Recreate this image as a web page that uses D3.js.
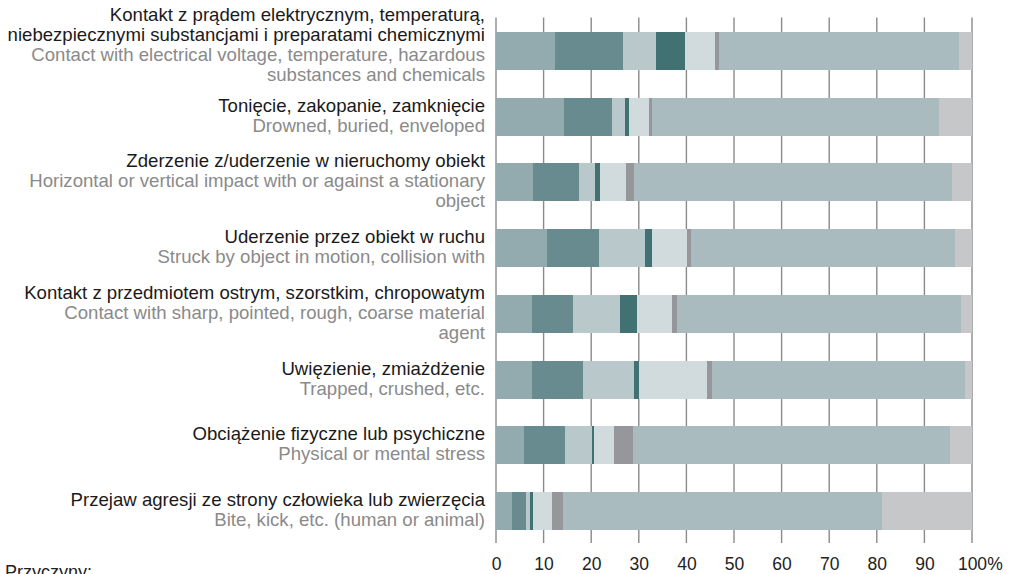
<!DOCTYPE html>
<html>
<head>
<meta charset="utf-8">
<script src="https://cdn.jsdelivr.net/npm/d3@7/dist/d3.min.js"></script>
<style>
  html, body { margin: 0; padding: 0; background: #fff; }
  svg { display: block; font-family: "Liberation Sans", Arial, sans-serif; }
</style>
</head>
<body>
<svg id="chart" width="1015" height="574"></svg>
<script>
// Accident types (Polish label lines, English label lines)
const labelsPl = [
  ["Kontakt z prądem elektrycznym, temperaturą,", "niebezpiecznymi substancjami i preparatami chemicznymi"],
  ["Tonięcie, zakopanie, zamknięcie"],
  ["Zderzenie z/uderzenie w nieruchomy obiekt"],
  ["Uderzenie przez obiekt w ruchu"],
  ["Kontakt z przedmiotem ostrym, szorstkim, chropowatym"],
  ["Uwięzienie, zmiażdżenie"],
  ["Obciążenie fizyczne lub psychiczne"],
  ["Przejaw agresji ze strony człowieka lub zwierzęcia"]
];
const labelsEn = [
  ["Contact with electrical voltage, temperature, hazardous", "substances and chemicals"],
  ["Drowned, buried, enveloped"],
  ["Horizontal or vertical impact with or against a stationary", "object"],
  ["Struck by object in motion, collision with"],
  ["Contact with sharp, pointed, rough, coarse material", "agent"],
  ["Trapped, crushed, etc."],
  ["Physical or mental stress"],
  ["Bite, kick, etc. (human or animal)"]
];

// Causes (stack order, left to right)
const causes = ["p1", "p2", "p3", "p4", "p5", "p6", "p7", "p8"];

// Share of each cause, % per accident type
const p1 = [12.4, 14.3, 7.8, 10.8, 7.6, 7.6, 5.9, 3.4];
const p2 = [14.3, 10.1, 9.7, 10.9, 8.6, 10.7, 8.6, 2.8];
const p3 = [6.9, 2.7, 3.3, 9.6, 9.9, 10.7, 5.7, 1.0];
const p4 = [6.1, 0.9, 1.1, 1.5, 3.6, 1.1, 0.4, 0.6];
const p5 = [6.3, 4.2, 5.4, 7.3, 7.3, 14.2, 4.2, 4.0];
const p6 = [0.8, 0.6, 1.7, 0.9, 1.0, 1.1, 4.0, 2.3];
const p7 = [50.4, 60.2, 66.9, 55.4, 59.6, 53.1, 66.5, 66.9];
const p8 = [2.8, 7.0, 4.1, 3.6, 2.4, 1.5, 4.7, 19.0];

const xTicks = [0, 10, 20, 30, 40, 50, 60, 70, 80, 90, 100];

const colors = ["#93abae", "#688b8f", "#b8c8cb", "#427174", "#d1dadc", "#96979a", "#aabbbf", "#c6c7c9"];

const seriesArrays = [p1, p2, p3, p4, p5, p6, p7, p8];
const rows = labelsPl.map((pl, i) => {
  const r = { idx: i };
  causes.forEach((c, k) => { r[c] = seriesArrays[k][i]; });
  return r;
});

const svg = d3.select("#chart");

const x = d3.scaleLinear().domain([0, 100]).range([496, 972]);
const y = d3.scaleBand()
  .domain(rows.map(r => r.idx))
  .range([18, 544])
  .paddingInner(0.42)
  .paddingOuter(0.21);

// vertical gridlines
svg.append("g")
  .selectAll("line")
  .data(xTicks)
  .join("line")
  .attr("x1", d => x(d)).attr("x2", d => x(d))
  .attr("y1", 17.5).attr("y2", 543)
  .attr("stroke", "#8a8a8a")
  .attr("stroke-width", 1.4);

// stacked bars
const stack = d3.stack().keys(causes);
const layers = stack(rows);

svg.append("g")
  .selectAll("g")
  .data(layers)
  .join("g")
  .attr("fill", (d, i) => colors[i])
  .selectAll("rect")
  .data(d => d)
  .join("rect")
  .attr("x", d => x(d[0]))
  .attr("width", d => x(d[1]) - x(d[0]))
  .attr("y", d => y(d.data.idx))
  .attr("height", y.bandwidth())
  .attr("shape-rendering", "crispEdges");

// x axis labels
const xAxis = d3.axisBottom(x).tickValues(xTicks).tickSize(0).tickPadding(0).tickFormat(d3.format("d"));
const axisG = svg.append("g").attr("transform", "translate(0,544)").call(xAxis);
axisG.select(".domain").remove();
axisG.selectAll(".tick text")
  .attr("y", 26)
  .attr("dy", 0)
  .attr("fill", "#222")
  .style("font-size", "17.5px")
  .style("font-family", "Liberation Sans, Arial, sans-serif");
// percent sign follows the last value
const lastTick = axisG.selectAll(".tick").filter(d => d === 100);
const lastText = lastTick.select("text").node();
const bb = lastText.getBBox();
lastTick.append("text")
  .attr("x", bb.x + bb.width)
  .attr("y", 26)
  .attr("fill", "#222")
  .attr("text-anchor", "start")
  .style("font-size", "17.5px")
  .style("font-family", "Liberation Sans, Arial, sans-serif")
  .text("%");

// category labels
const lineH = 20;
const labelX = 485;
const lg = svg.append("g").attr("font-size", "18.6px").attr("text-anchor", "end");
rows.forEach((r, i) => {
  const lines = labelsPl[i].map(t => ({ t, pl: true })).concat(labelsEn[i].map(t => ({ t, pl: false })));
  const cy = y(r.idx) + y.bandwidth() / 2;
  const n = lines.length;
  const shift = n > 3 ? -3 : 2;
  lines.forEach((ln, k) => {
    lg.append("text")
      .attr("x", labelX)
      .attr("y", cy + shift + (k - (n - 1) / 2) * lineH + 3)
      .attr("fill", ln.pl ? "#1a1a1a" : "#8a8a8a")
      .text(ln.t);
  });
});

// legend title
svg.append("text")
  .attr("x", 5)
  .attr("y", 578)
  .attr("font-size", "18px")
  .attr("fill", "#222")
  .text("Przyczyny:");
</script>
</body>
</html>
